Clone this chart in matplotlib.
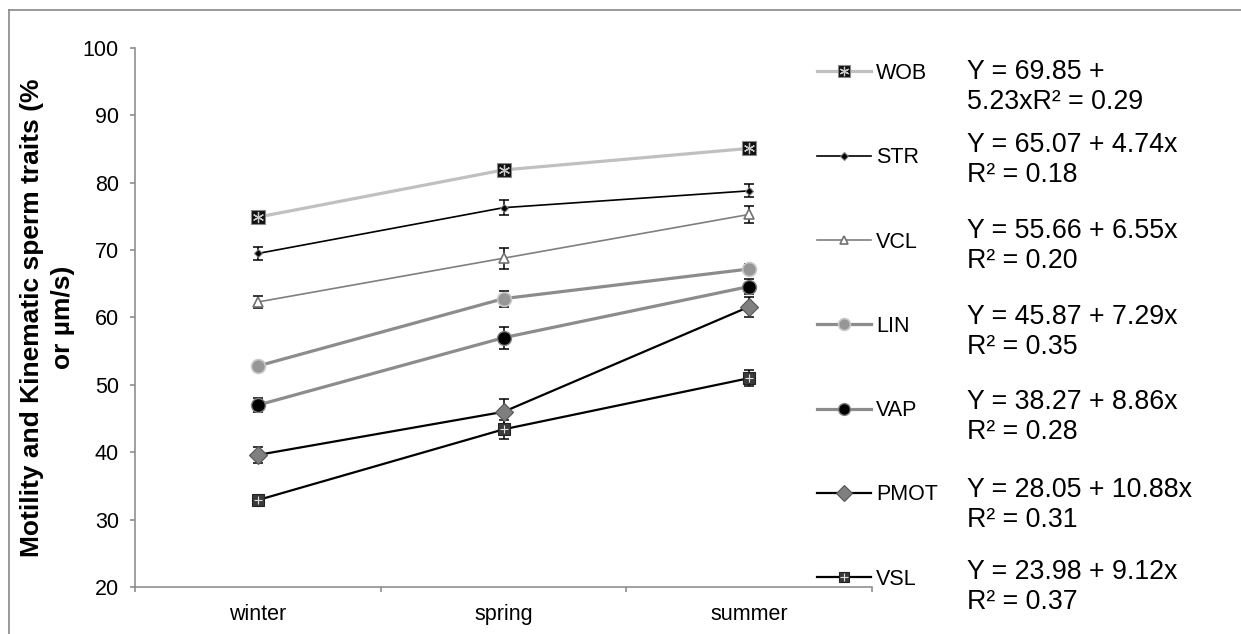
import numpy as np
import matplotlib.pyplot as plt
from matplotlib.lines import Line2D

plt.rcParams['font.family'] = ['Liberation Sans', 'DejaVu Sans']

# data (mean per season, +/- error)
seasons = ['winter', 'spring', 'summer']
traits = ['WOB', 'STR', 'VCL', 'LIN', 'VAP', 'PMOT', 'VSL']

wob = [74.9, 81.9, 85.1]
wob_err = [0.6, 0.6, 0.6]
str_ = [69.5, 76.3, 78.8]
str_err = [0.9, 1.15, 0.95]
vcl = [62.3, 68.8, 75.3]
vcl_err = [0.95, 1.55, 1.3]
lin = [52.8, 62.8, 67.2]
lin_err = [0.6, 1.2, 0.8]
vap = [47.0, 57.0, 64.6]
vap_err = [1.1, 1.65, 1.1]
pmot = [39.6, 46.0, 61.6]
pmot_err = [1.2, 1.95, 1.5]
vsl = [32.9, 43.4, 51.0]
vsl_err = [0.5, 1.45, 1.2]

equations = [
    'Y = 69.85 +\n5.23xR² = 0.29',
    'Y = 65.07 + 4.74x\nR² = 0.18',
    'Y = 55.66 + 6.55x\nR² = 0.20',
    'Y = 45.87 + 7.29x\nR² = 0.35',
    'Y = 38.27 + 8.86x\nR² = 0.28',
    'Y = 28.05 + 10.88x\nR² = 0.31',
    'Y = 23.98 + 9.12x\nR² = 0.37',
]

values = [wob, str_, vcl, lin, vap, pmot, vsl]
errors = [wob_err, str_err, vcl_err, lin_err, vap_err, pmot_err, vsl_err]

# line / marker styles per trait
styles = {
    'WOB': dict(color='#c0c0c0', lw=2.3, marker='s', ms=10, mfc='#111111', mec='#8a8a8a', mew=0.8),
    'STR': dict(color='black', lw=1.2, marker='D', ms=4.5, mfc='black', mec='#808080', mew=0.8),
    'VCL': dict(color='#7f7f7f', lw=1.2, marker='^', ms=7.5, mfc='white', mec='#707070', mew=1.2),
    'LIN': dict(color='#8c8c8c', lw=2.3, marker='o', ms=10, mfc='#969696', mec='#c8c8c8', mew=1.2),
    'VAP': dict(color='#8c8c8c', lw=2.3, marker='o', ms=10, mfc='black', mec='#808080', mew=1.0),
    'PMOT': dict(color='black', lw=1.6, marker='D', ms=9, mfc='#7f7f7f', mec='#555555', mew=0.8),
    'VSL': dict(color='black', lw=1.6, marker='s', ms=9, mfc='#3a3a3a', mec='#222222', mew=0.8),
}
overlays = {
    'WOB': dict(marker=(6, 2, 0), ms=8, mec='#c8c8c8', mew=0.9),
    'VSL': dict(marker='+', ms=6, mec='#e0e0e0', mew=0.8),
}

fig = plt.figure(figsize=(12.41, 6.34), dpi=100)
ax = fig.add_axes([135 / 1241, 1 - 587 / 634, (872 - 135) / 1241, (587 - 48) / 634])

x = np.arange(len(seasons))
handles = []
for name, vals, err in zip(traits, values, errors):
    ax.errorbar(x, vals, yerr=err, fmt='none', ecolor='black', elinewidth=1.1,
                capsize=3.8, capthick=1.1, zorder=2)
    st = styles[name]
    line, = ax.plot(x, vals, color=st['color'], lw=st['lw'], marker=st['marker'],
                    ms=st['ms'], mfc=st['mfc'], mec=st['mec'], mew=st['mew'], zorder=3)
    h = Line2D([], [], color=st['color'], lw=st['lw'], marker=st['marker'],
               ms=st['ms'] * 0.85, mfc=st['mfc'], mec=st['mec'], mew=st['mew'])
    if name in overlays:
        ov = overlays[name]
        ax.plot(x, vals, ls='none', marker=ov['marker'], ms=ov['ms'], mec=ov['mec'],
                mew=ov['mew'], zorder=4)
        h2 = Line2D([], [], ls='none', marker=ov['marker'], ms=ov['ms'] * 0.85,
                    mec=ov['mec'], mew=ov['mew'])
        h = (h, h2)
    handles.append(h)

ax.set_xlim(-0.5, 2.5)
ax.set_ylim(20, 100)
ax.set_yticks(range(20, 101, 10))
ax.set_xticks(x)
ax.set_xticklabels(seasons)
ax.set_xticks([-0.5, 0.5, 1.5, 2.5], minor=True)
ax.tick_params(axis='x', which='major', length=0, pad=12.5, labelsize=15.5)
ax.tick_params(axis='x', which='minor', length=3.6, color='#868686', width=1.1)
ax.tick_params(axis='y', length=3.6, color='#868686', width=1.1, pad=8, labelsize=15.5)
for s in ['top', 'right']:
    ax.spines[s].set_visible(False)
for s in ['left', 'bottom']:
    ax.spines[s].set_color('#868686')
    ax.spines[s].set_linewidth(1.1)

ax.set_ylabel('Motility and Kinematic sperm traits (%\nor µm/s)', fontsize=19,
              fontweight='bold', linespacing=1.35)
ax.yaxis.set_label_coords(-0.082, 0.5)

fig.legend(handles, traits, loc='upper left', bbox_to_anchor=(817 / 1241, 1 - 63 / 634),
           frameon=False, fontsize=15.5, handlelength=2.5, handletextpad=0.25,
           labelspacing=2.94, borderpad=0, borderaxespad=0)

eq_y = [87, 160, 246, 332, 417, 505, 587]
for txt, yy in zip(equations, eq_y):
    fig.text(967 / 1241, 1 - yy / 634, txt, fontsize=19.3, va='center', ha='left',
             linespacing=1.19)

# outer chart-area border (left and top visible)
fig.add_artist(Line2D([9 / 1241, 9 / 1241], [0, 1 - 10 / 634], color='#878787', lw=1.2))
fig.add_artist(Line2D([9 / 1241, 1], [1 - 10 / 634, 1 - 10 / 634], color='#878787', lw=1.2))

fig.savefig('out.png', dpi=100)
